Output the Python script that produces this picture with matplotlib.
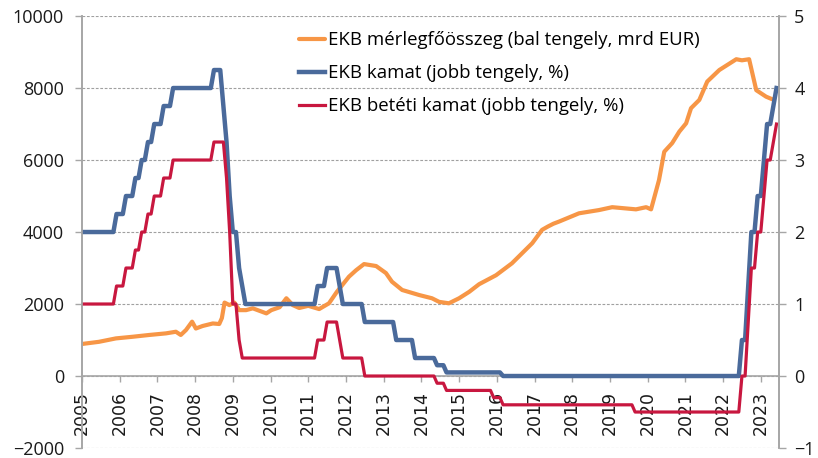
import numpy as np
import matplotlib.pyplot as plt

# EKB fő refinanszírozási kamat, havonta 2005 jan-tól (szint, hónapok száma)
kamat_szint = [2.0, 2.25, 2.5, 2.75, 3.0, 3.25, 3.5, 3.75, 4.0, 4.25, 3.75, 3.25, 2.5, 2.0, 1.5, 1.25,
               1.0, 1.25, 1.5, 1.25, 1.0, 0.75, 0.5, 0.25, 0.15, 0.05, 0.0, 0.5, 1.25, 2.0, 2.5, 3.0,
               3.5, 3.75, 4.0]
kamat_honap = [11, 3, 3, 2, 2, 2, 3, 3, 13, 3, 1, 1, 1, 2, 1, 1,
               23, 3, 4, 1, 7, 10, 6, 7, 3, 18, 76, 2, 1, 2, 2, 1,
               2, 1, 1]

# EKB betéti kamat
betet_szint = [1.0, 1.25, 1.5, 1.75, 2.0, 2.25, 2.5, 2.75, 3.0, 3.25, 2.75, 2.0, 1.0, 0.5, 0.25,
               0.5, 0.75, 0.5, 0.25, 0.0, -0.1, -0.2, -0.3, -0.4, -0.5, 0.0, 0.75, 1.5, 2.0, 2.5,
               3.0, 3.25, 3.5]
betet_honap = [11, 3, 3, 2, 2, 2, 3, 3, 13, 4, 1, 1, 2, 1, 24,
               3, 4, 1, 7, 23, 3, 15, 3, 42, 34, 2, 1, 2, 2, 1,
               2, 1, 1]

# EKB mérlegfőösszeg (mrd EUR), leolvasott pontok
merleg_ev = [2005.0, 2005.45, 2005.9, 2006.34, 2006.78, 2007.23, 2007.49, 2007.62, 2007.76, 2007.92,
             2008.02, 2008.2, 2008.47, 2008.64, 2008.71, 2008.78, 2008.91, 2009.04, 2009.17, 2009.35,
             2009.53, 2009.89, 2010.02, 2010.24, 2010.42, 2010.59, 2010.76, 2011.0, 2011.29, 2011.55,
             2011.76, 2012.08, 2012.27, 2012.48, 2012.8, 2013.06, 2013.22, 2013.49, 2013.94, 2014.28,
             2014.47, 2014.73, 2015.0, 2015.27, 2015.53, 2015.98, 2016.4, 2016.94, 2017.2, 2017.35,
             2017.5, 2017.65, 2018.18, 2018.71, 2019.06, 2019.69, 2019.96, 2020.09, 2020.3, 2020.44,
             2020.65, 2020.84, 2021.02, 2021.15, 2021.37, 2021.58, 2021.9, 2022.35, 2022.5, 2022.69,
             2022.88, 2023.14, 2023.3]
merleg_ertek = [890, 950, 1045, 1090, 1140, 1185, 1230, 1140, 1280, 1510,
                1320, 1390, 1460, 1445, 1610, 2040, 1970, 2040, 1830, 1830,
                1880, 1740, 1830, 1910, 2160, 1970, 1890, 1950, 1860, 2020,
                2340, 2760, 2940, 3110, 3055, 2860, 2620, 2390, 2250, 2160,
                2060, 2020, 2160, 2340, 2550, 2800, 3130, 3690, 4060, 4150,
                4230, 4290, 4520, 4610, 4690, 4630, 4690, 4630, 5440, 6230,
                6470, 6790, 7020, 7440, 7670, 8180, 8500, 8800, 8770, 8800,
                7940, 7760, 7690]

ev_cimkek = [str(e) for e in range(2005, 2024)]

kamat = np.repeat(kamat_szint, kamat_honap)
betet = np.repeat(betet_szint, betet_honap)
honapok = 2005 + np.arange(len(kamat)) / 12

narancs = '#F79646'
kek = '#4A6A9B'
piros = '#C8173F'
szurke = '#A6A6A6'
szoveg = '#1a1a1a'

fig = plt.figure(figsize=(8.18, 4.58), dpi=100)
ax = fig.add_axes([0.1002, 0.0218, 0.852, 0.9432])
ax2 = ax.twinx()

l1, = ax.plot(merleg_ev, merleg_ertek, color=narancs, lw=3.0, solid_capstyle='round',
              label='EKB mérlegfőösszeg (bal tengely, mrd EUR)')
l2, = ax2.plot(honapok, kamat, color=kek, lw=3.2, label='EKB kamat (jobb tengely, %)')
l3, = ax2.plot(honapok, betet, color=piros, lw=2.3, label='EKB betéti kamat (jobb tengely, %)')

ax.set_xlim(2005, 2023.48)
ax.set_ylim(-2000, 10000)
ax.set_yticks(range(-2000, 10001, 2000))
ax2.set_ylim(-1, 5)
ax2.set_yticks(range(-1, 6))
ax.set_xticks(range(2005, 2024))
ax.set_xticklabels(ev_cimkek)

ax.yaxis.grid(True, color='#A0A0A0', linestyle=(0, (2.5, 1.5)), linewidth=0.8)
ax.set_axisbelow(True)

for a in (ax, ax2):
    a.spines['top'].set_visible(False)
    a.spines['bottom'].set_visible(False)
    a.spines['left'].set_color(szurke)
    a.spines['right'].set_color(szurke)
    a.spines['left'].set_linewidth(1.2)
    a.spines['right'].set_linewidth(1.2)
ax.spines['bottom'].set_visible(True)
ax.spines['bottom'].set_position(('data', 0))
ax.spines['bottom'].set_color(szurke)
ax.spines['bottom'].set_linewidth(1.2)

ax.tick_params(axis='x', length=4, width=1, color=szurke, pad=7)
ax.tick_params(axis='y', length=5, width=1, color=szurke, pad=8)
ax2.tick_params(axis='y', length=5, width=1, color=szurke, pad=6)

for lab in ax.get_xticklabels():
    lab.set_rotation(90)
    lab.set_family('DejaVu Sans')
    lab.set_fontsize(12.5)
    lab.set_color(szoveg)
for lab in ax.get_yticklabels() + ax2.get_yticklabels():
    lab.set_family('Open Sans')
    lab.set_fontsize(13)
    lab.set_color(szoveg)

fig.legend(handles=[l1, l2, l3], loc='upper left', bbox_to_anchor=(0.354, 0.952),
           frameon=False, handlelength=1.4, handletextpad=0.15, labelspacing=0.8,
           borderpad=0, prop={'family': 'Open Sans', 'size': 13.4})

fig.savefig('out.png', dpi=100)
